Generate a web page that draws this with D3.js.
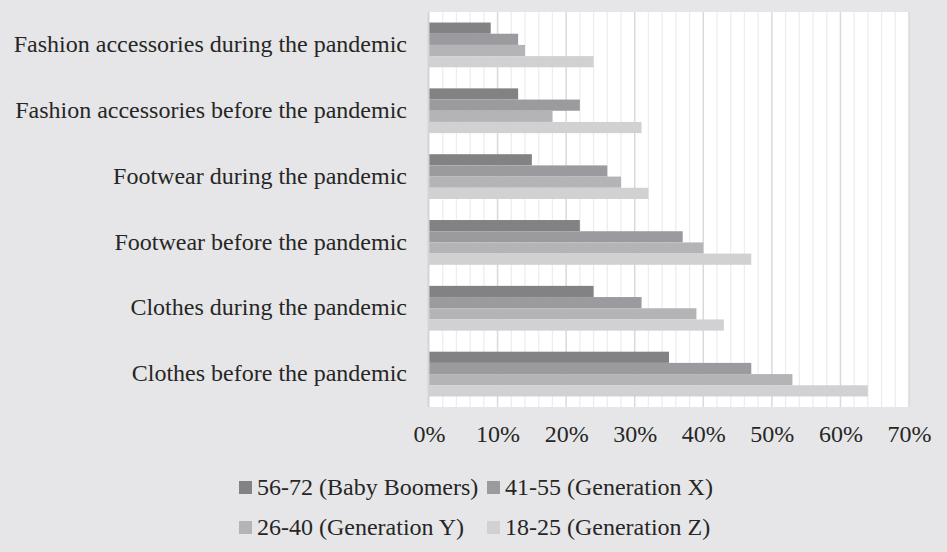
<!DOCTYPE html>
<html>
<head>
<meta charset="utf-8">
<script src="https://cdn.jsdelivr.net/npm/d3@7"></script>
<style>
  html, body { margin: 0; padding: 0; background: #e6e6e8; }
  svg { display: block; }
  text { font-family: "Liberation Serif", "Times New Roman", serif; fill: #262626; }
</style>
</head>
<body>
<svg id="chart" width="947" height="552"></svg>
<script>
// Categories, top to bottom
const categories = [
  "Fashion accessories during the pandemic",
  "Fashion accessories before the pandemic",
  "Footwear during the pandemic",
  "Footwear before the pandemic",
  "Clothes during the pandemic",
  "Clothes before the pandemic"
];

// Age groups (series), in bar order within each category
const seriesNames = [
  "56-72 (Baby Boomers)",
  "41-55 (Generation X)",
  "26-40 (Generation Y)",
  "18-25 (Generation Z)"
];
const seriesColors = ["#828285", "#9b9b9f", "#b4b4b7", "#d1d1d3"];

// Share of respondents (%) per category, one array per age group
const babyBoomers = [9, 13, 15, 22, 24, 35];
const generationX = [13, 22, 26, 37, 31, 47];
const generationY = [14, 18, 28, 40, 39, 53];
const generationZ = [24, 31, 32, 47, 43, 64];
const seriesValues = [babyBoomers, generationX, generationY, generationZ];

// Axis ticks
const tickValues = [0, 10, 20, 30, 40, 50, 60, 70];
const tickLabels = ["0%", "10%", "20%", "30%", "40%", "50%", "60%", "70%"];

const svg = d3.select("#chart");
const plot = { left: 429, right: 909, top: 12, bottom: 407 };

const x = d3.scaleLinear().domain([0, 70]).range([plot.left, plot.right]);
const y = d3.scaleBand().domain(categories).range([plot.top, plot.bottom])
  .paddingInner(0.32).paddingOuter(0.16);
const ySub = d3.scaleBand().domain(d3.range(seriesNames.length)).range([0, y.bandwidth()]);

// Plot background
svg.append("rect")
  .attr("x", plot.left).attr("y", plot.top)
  .attr("width", plot.right - plot.left).attr("height", plot.bottom - plot.top)
  .attr("fill", "#ffffff");

// Minor gridlines every 2%
const minor = d3.range(2, 70, 2).filter(v => v % 10 !== 0);
svg.append("g").selectAll("line").data(minor).join("line")
  .attr("x1", d => x(d)).attr("x2", d => x(d))
  .attr("y1", plot.top).attr("y2", plot.bottom)
  .attr("stroke", "#ededee").attr("stroke-width", 1.3);

// Major gridlines every 10%
svg.append("g").selectAll("line").data(tickValues.slice(1)).join("line")
  .attr("x1", d => x(d)).attr("x2", d => x(d))
  .attr("y1", plot.top).attr("y2", plot.bottom)
  .attr("stroke", "#d9d9da").attr("stroke-width", 1.5);

// Bars
const groups = svg.append("g").selectAll("g").data(categories).join("g")
  .attr("transform", c => `translate(0,${y(c)})`);
groups.selectAll("rect")
  .data((c, ci) => seriesValues.map((vals, si) => ({ si, v: vals[ci] })))
  .join("rect")
  .attr("x", x(0))
  .attr("y", d => ySub(d.si))
  .attr("width", d => x(d.v) - x(0))
  .attr("height", ySub.bandwidth())
  .attr("fill", d => seriesColors[d.si]);

// Left axis line
svg.append("line")
  .attr("x1", plot.left - 0.5).attr("x2", plot.left - 0.5)
  .attr("y1", plot.top).attr("y2", plot.bottom)
  .attr("stroke", "#d4d4d6").attr("stroke-width", 2);

// Category labels
const yAxis = d3.axisLeft(y).tickSize(0).tickPadding(22);
svg.append("g").attr("transform", `translate(${plot.left},0)`).call(yAxis)
  .call(g => g.select(".domain").remove())
  .selectAll("text")
  .attr("font-size", 24)
  .attr("font-family", "Liberation Serif")
  .attr("fill", "#262626")
  .attr("dy", "0.3em");

// Percentage ticks
const xAxis = d3.axisBottom(x).tickValues(tickValues)
  .tickFormat((d, i) => tickLabels[i]).tickSize(0).tickPadding(18);
svg.append("g").attr("transform", `translate(0,${plot.bottom})`).call(xAxis)
  .call(g => g.select(".domain").remove())
  .selectAll("text")
  .attr("font-size", 24)
  .attr("font-family", "Liberation Serif")
  .attr("fill", "#262626");

// Legend: two rows of two entries
const legendPos = [
  { x: 239, y: 481 }, { x: 487, y: 481 },
  { x: 239, y: 521 }, { x: 487, y: 521 }
];
const legend = svg.append("g").selectAll("g").data(seriesNames).join("g")
  .attr("transform", (d, i) => `translate(${legendPos[i].x},${legendPos[i].y})`);
legend.append("rect")
  .attr("width", 13).attr("height", 13)
  .attr("fill", (d, i) => seriesColors[i]);
legend.append("text")
  .attr("x", 18).attr("y", 14)
  .attr("font-size", 24)
  .text(d => d);
</script>
</body>
</html>
